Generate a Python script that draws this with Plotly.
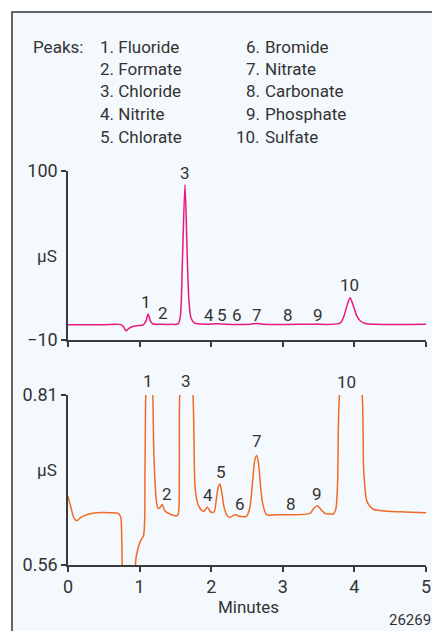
import plotly.graph_objects as go

W, H = 432, 631

# ---- data ----
peak_names_left = ["1. Fluoride", "2. Formate", "3. Chloride", "4. Nitrite", "5. Chlorate"]
peak_names_right = ["6. Bromide", "7. Nitrate", "8. Carbonate", "9. Phosphate", "10. Sulfate"]

top_t = [0.0, 0.5, 0.74, 0.77, 0.81, 0.85, 0.9, 0.98, 1.05, 1.09, 1.12, 1.15, 1.19, 1.3, 1.45,
         1.54, 1.57, 1.6, 1.634, 1.665, 1.69, 1.72, 1.77, 1.9, 2.1, 2.2, 2.55, 2.63, 2.72, 3.0,
         3.47, 3.6, 3.75, 3.8, 3.85, 3.9, 3.94, 3.98, 4.03, 4.08, 4.15, 4.3, 5.0]
top_v = [0.0, 0.0, 0.0, -1.0, -4.0, -2.5, -1.2, -0.6, -0.2, 2.5, 7.0, 2.5, 0.4, 0.2, 0.2,
         0.5, 6.0, 45.0, 91.0, 45.0, 15.0, 4.0, 1.0, 0.3, 0.5, 0.2, 0.3, 0.8, 0.3, 0.1,
         0.3, 0.1, 0.5, 1.0, 5.0, 13.0, 17.5, 13.0, 6.0, 2.5, 0.8, 0.2, 0.2]

bot_t = [0.0, 0.04, 0.08, 0.12, 0.18, 0.26, 0.4, 0.6, 0.70, 0.735, 0.75, 0.763, 0.80, 0.90,
         0.936, 0.95, 0.982, 1.02, 1.055, 1.075, 1.089, 1.135, 1.182, 1.2, 1.238, 1.262, 1.29,
         1.318, 1.345, 1.369, 1.447, 1.517, 1.54, 1.555, 1.564, 1.65, 1.741, 1.774, 1.80, 1.821,
         1.86, 1.9, 1.947, 1.994, 2.04, 2.07, 2.1, 2.123, 2.15, 2.18, 2.22, 2.263, 2.31, 2.346,
         2.38, 2.495, 2.54, 2.58, 2.61, 2.635, 2.66, 2.69, 2.72, 2.775, 2.9, 3.1, 3.38, 3.43,
         3.483, 3.53, 3.589, 3.65, 3.706, 3.74, 3.765, 3.799, 3.95, 4.101, 4.13, 4.171, 4.22,
         4.264, 4.35, 4.45, 4.7, 5.0]
bot_v = [0.661, 0.645, 0.630, 0.625, 0.630, 0.634, 0.637, 0.637, 0.636, 0.631, 0.60, 0.54, 0.50, 0.50,
         0.55, 0.57, 0.586, 0.597, 0.603, 0.70, 0.82, 0.90, 0.82, 0.72, 0.651, 0.643, 0.645,
         0.649, 0.641, 0.638, 0.634, 0.632, 0.635, 0.70, 0.82, 0.90, 0.82, 0.675, 0.655, 0.648,
         0.641, 0.639, 0.645, 0.638, 0.638, 0.655, 0.675, 0.679, 0.665, 0.645, 0.633, 0.630, 0.633, 0.634,
         0.632, 0.632, 0.645, 0.685, 0.715, 0.721, 0.71, 0.675, 0.650, 0.634, 0.634, 0.634, 0.636, 0.643,
         0.647, 0.642, 0.636, 0.635, 0.635, 0.642, 0.68, 0.82, 0.90, 0.82, 0.70, 0.655, 0.646,
         0.642, 0.640, 0.639, 0.638, 0.637]

top_lbl = ["1", "2", "3", "4", "5", "6", "7", "8", "9", "10"]
top_lbl_t = [1.089, 1.327, 1.634, 1.969, 2.147, 2.356, 2.644, 3.077, 3.496, 3.929]
top_lbl_v = [14.7, 7.6, 98.7, 6.5, 6.5, 6.5, 6.5, 6.5, 6.5, 25.8]

bot_lbl = ["1", "2", "3", "4", "5", "6", "7", "8", "9", "10"]
bot_lbl_t = [1.113, 1.378, 1.648, 1.951, 2.132, 2.402, 2.635, 3.110, 3.482, 3.892]
bot_lbl_v = [0.830, 0.665, 0.830, 0.663, 0.697, 0.649, 0.742, 0.649, 0.664, 0.829]

x_ticks = [0, 1, 2, 3, 4, 5]
top_yticks = [-10, 100]
bot_yticks = [0.56, 0.81]
bot_ytick_text = ["0.56", "0.81"]

FONT = "Roboto, Liberation Sans, Arial, sans-serif"
FS = 17
TXT = "#333333"
AX = "#3a3a3a"
MAGENTA = "#e6197f"
ORANGE = "#f26a25"
BG = "#f4f9fd"

def px_x(p):
    return p / W

def px_y(p):
    return 1 - p / H

fig = go.Figure()
fig.add_trace(go.Scatter(x=top_t, y=top_v, mode="lines", xaxis="x", yaxis="y",
                         line=dict(color=MAGENTA, width=1.5, shape="spline", smoothing=0.8),
                         hoverinfo="skip", showlegend=False))
fig.add_trace(go.Scatter(x=bot_t, y=bot_v, mode="lines", xaxis="x2", yaxis="y2",
                         line=dict(color=ORANGE, width=1.5, shape="spline", smoothing=0.8),
                         hoverinfo="skip", showlegend=False))

xdom = [px_x(68), px_x(426)]
axis_common = dict(showgrid=False, zeroline=False, showline=True, linecolor=AX, linewidth=1.5,
                   ticks="outside", tickcolor=AX, tickwidth=1.5, ticklen=5, automargin=False,
                   tickfont=dict(family=FONT, size=18, color=TXT), fixedrange=True)

fig.update_layout(
    width=W, height=H,
    margin=dict(l=0, r=0, t=0, b=0, pad=0),
    paper_bgcolor="white", plot_bgcolor="rgba(0,0,0,0)",
    font=dict(family=FONT, color=TXT, size=FS),
    xaxis=dict(domain=xdom, range=[0, 5], anchor="y", tickvals=x_ticks, showticklabels=False,
               **axis_common),
    yaxis=dict(domain=[px_y(340), px_y(171)], range=[-10, 100], anchor="x",
               tickvals=top_yticks, ticktext=["\u221210", "100"], **axis_common),
    xaxis2=dict(domain=xdom, range=[0, 5], anchor="y2", tickvals=x_ticks, **axis_common),
    yaxis2=dict(domain=[px_y(565), px_y(395)], range=[0.56, 0.81], anchor="x2",
                tickvals=bot_yticks, ticktext=bot_ytick_text, **axis_common),
    showlegend=False,
)

# background frame
fig.add_shape(type="rect", xref="paper", yref="paper", x0=px_x(12), x1=1.02,
              y0=-0.02, y1=px_y(12), line=dict(color="#333333", width=1.5),
              fillcolor=BG, layer="below")

anns = []
# legend block
row_y = [46.5, 69, 91.5, 114, 136.5]
anns.append(dict(text="Peaks:", x=px_x(32), y=px_y(row_y[0]), xanchor="left", yanchor="middle"))
for i, name in enumerate(peak_names_left):
    anns.append(dict(text=name, x=px_x(99), y=px_y(row_y[i]), xanchor="left", yanchor="middle"))
for i, name in enumerate(peak_names_right):
    num, rest = name.split(". ", 1)
    anns.append(dict(text=num + ".", x=px_x(261), y=px_y(row_y[i]), xanchor="right", yanchor="middle"))
    anns.append(dict(text=rest, x=px_x(264), y=px_y(row_y[i]), xanchor="left", yanchor="middle"))

for s, t, v in zip(top_lbl, top_lbl_t, top_lbl_v):
    anns.append(dict(text=s, x=t, y=v, xref="x", yref="y", xanchor="center", yanchor="middle"))

# bottom labels; those above the axis range are placed in paper space at the same height
b_lo, b_hi = bot_yticks
for s, t, v in zip(bot_lbl, bot_lbl_t, bot_lbl_v):
    if v <= b_hi:
        anns.append(dict(text=s, x=t, y=v, xref="x2", yref="y2", xanchor="center", yanchor="middle"))
    else:
        d0, d1 = px_y(565), px_y(395)
        yp = d0 + (v - b_lo) / (b_hi - b_lo) * (d1 - d0)
        anns.append(dict(text=s, x=t, y=yp, xref="x2", yref="paper", xanchor="center", yanchor="middle"))

anns.append(dict(text="\u00b5S", x=px_x(47), y=px_y(256), xanchor="center", yanchor="middle"))
anns.append(dict(text="\u00b5S", x=px_x(47), y=px_y(470), xanchor="center", yanchor="middle"))
anns.append(dict(text="Minutes", x=px_x(248), y=px_y(607), xanchor="center", yanchor="middle"))
anns.append(dict(text="26269", x=px_x(432), y=px_y(620), xanchor="right", yanchor="middle",
                 font=dict(size=15, family=FONT, color=TXT)))

for a in anns:
    a.setdefault("xref", "paper")
    a.setdefault("yref", "paper")
    a["showarrow"] = False
    a["borderpad"] = 0
    a.setdefault("font", dict(size=FS, family=FONT, color=TXT))
fig.update_layout(annotations=anns)

fig.write_html("out.html", config={"displayModeBar": False})
